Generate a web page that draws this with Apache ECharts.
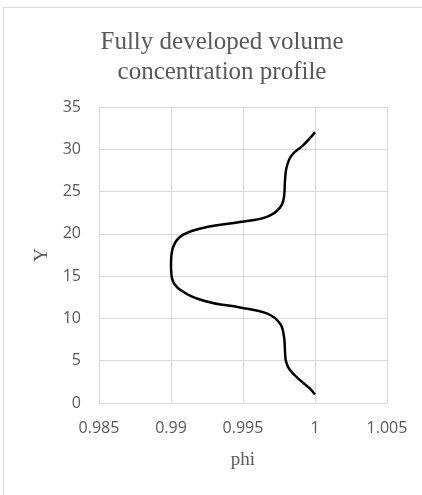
<!DOCTYPE html>
<html>
<head>
<meta charset="utf-8">
<script src="https://cdn.jsdelivr.net/npm/echarts@6/dist/echarts.min.js"></script>
<style>
  html, body { margin: 0; padding: 0; background: #fff; }
  #main { width: 422px; height: 495px; }
</style>
</head>
<body>
<div id="main"></div>
<script>
// profile: phi (x) against Y (y)
var phi = [1.0000, 0.99965, 0.99896, 0.99826, 0.99799, 0.99792, 0.99785, 0.99757, 0.99665, 0.99479, 0.99248,
           0.99063, 0.99005, 0.99000, 0.99016, 0.99085, 0.99248, 0.99479, 0.99665, 0.99757, 0.99785,
           0.99792, 0.99803, 0.99838, 0.99919, 1.0000];
var Y   = [1, 1.7, 2.7, 3.9, 4.9, 6.0, 7.8, 9.4, 10.6, 11.3, 12.0,
           13.4, 14.9, 16.5, 18.5, 19.9, 20.8, 21.4, 22.0, 23.1, 24.4,
           26.4, 27.9, 29.3, 30.5, 32];
var xTicks = [0.985, 0.99, 0.995, 1, 1.005];
var yTicks = [0, 5, 10, 15, 20, 25, 30, 35];

var points = phi.map(function (p, i) { return [p, Y[i]]; });

var myChart = echarts.init(document.getElementById('main'));
var textColor = '#595959';
var option = {
    backgroundColor: '#fff',
    animation: false,
    title: {
        text: 'Fully developed volume\nconcentration profile',
        left: 217,
        textAlign: 'center',
        top: 22,
        textStyle: {
            fontFamily: 'Liberation Serif',
            fontWeight: 'normal',
            fontSize: 25,
            lineHeight: 30,
            color: textColor
        }
    },
    graphic: [{
        type: 'rect',
        shape: { x: 3.5, y: 7.5, width: 440, height: 520 },
        style: { fill: 'none', stroke: '#d9d9d9', lineWidth: 1 },
        silent: true
    }],
    grid: { left: 99, right: 35, top: 107, bottom: 92 },
    xAxis: {
        type: 'value',
        min: xTicks[0],
        max: xTicks[xTicks.length - 1],
        interval: 0.005,
        name: 'phi',
        nameLocation: 'middle',
        nameGap: 48,
        nameTextStyle: { fontFamily: 'Liberation Serif', fontSize: 19, color: textColor },
        axisLine: { show: false },
        axisTick: { show: false },
        axisLabel: {
            margin: 17,
            color: textColor,
            fontFamily: 'Open Sans',
            fontSize: 16,
            formatter: function (v) { return String(+v.toFixed(3)); }
        },
        splitLine: { show: true, lineStyle: { color: '#d9d9d9', width: 1 } }
    },
    yAxis: {
        type: 'value',
        min: yTicks[0],
        max: yTicks[yTicks.length - 1],
        interval: 5,
        name: 'Y',
        nameLocation: 'middle',
        nameGap: 46,
        nameTextStyle: { fontFamily: 'Liberation Serif', fontSize: 19, color: textColor },
        axisLine: { show: false },
        axisTick: { show: false },
        axisLabel: {
            margin: 18,
            color: textColor,
            fontFamily: 'Open Sans',
            fontSize: 16
        },
        splitLine: { show: true, lineStyle: { color: '#d9d9d9', width: 1 } }
    },
    series: [{
        name: 'phi',
        type: 'line',
        data: points,
        smooth: 0.4,
        showSymbol: false,
        symbol: 'none',
        lineStyle: { color: '#000', width: 2.5 }
    }]
};
myChart.setOption(option);
</script>
</body>
</html>
